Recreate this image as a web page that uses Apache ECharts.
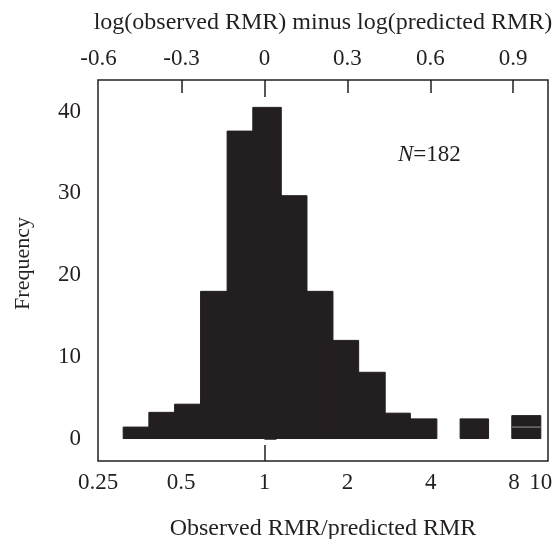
<!DOCTYPE html>
<html>
<head>
<meta charset="utf-8">
<script src="https://cdn.jsdelivr.net/npm/echarts@6/dist/echarts.min.js"></script>
<style>
  html, body { margin: 0; padding: 0; background: #fff; }
  #chart { width: 555px; height: 539px; }
</style>
</head>
<body>
<div id="chart"></div>
<script>
// bin edges in log10(observed/predicted) units
const binEdges = [-0.511, -0.418, -0.325, -0.231, -0.135, -0.042, 0.061, 0.154, 0.248, 0.341, 0.437, 0.528, 0.624, 0.708, 0.811, 0.895, 1.0]
const frequencies = [1.4, 3.2, 4.2, 18, 37.6, 40.5, 29.7, 18, 12, 8.1, 3.1, 2.4, 0, 2.4, 0, 2.8]
const lastBinBreak = 1.4 // light line inside the last bar

const topTicks = [-0.6, -0.3, 0, 0.3, 0.6, 0.9]
const ratioTicks = [0.5, 1, 2, 4, 8]
const ratioLabels = [0.25, 0.5, 1, 2, 4, 8, 10]
const yTicks = [0, 5, 10, 15, 20, 25, 30, 35, 40]
const yLabels = [0, 10, 20, 30, 40]

const ink = '#231f20'
const font = 'Liberation Serif'

const rects = []
frequencies.forEach((f, i) => {
  if (!f) return
  if (i === frequencies.length - 1) {
    rects.push([binEdges[i], binEdges[i + 1], 0, lastBinBreak])
    rects.push([binEdges[i], binEdges[i + 1], lastBinBreak, f])
  } else {
    rects.push([binEdges[i], binEdges[i + 1], 0, f])
  }
})

const xMin = Math.log10(0.25)
const xMax = 1.026

const tickStyle = { color: ink, width: 1.5 }

function plainX(extra) {
  return Object.assign({
    type: 'value',
    min: xMin, max: xMax,
    axisLine: { show: false },
    splitLine: { show: false }
  }, extra)
}

const chart = echarts.init(document.getElementById('chart'))

const option = {
  animation: false,
  textStyle: { fontFamily: font, color: ink },
  grid: {
    left: 98, right: 7, top: 80, bottom: 78,
    outerBoundsMode: 'none',
    containLabel: false,
    show: true, borderColor: ink, borderWidth: 1.5
  },
  xAxis: [
    plainX({
      position: 'bottom',
      name: 'Observed RMR/predicted RMR',
      nameLocation: 'middle',
      nameGap: 56,
      nameTextStyle: { fontFamily: font, fontSize: 24, color: ink },
      axisTick: {
        show: true, inside: true, length: 11, lineStyle: tickStyle,
        customValues: ratioTicks.map((v) => Math.log10(v))
      },
      axisLabel: {
        fontFamily: font, fontSize: 23, color: ink, margin: 10,
        customValues: ratioLabels.map((v) => Math.log10(v)),
        formatter: (v) => String(Math.round(Math.pow(10, v) * 100) / 100)
      }
    }),
    plainX({
      position: 'top',
      name: 'log(observed RMR) minus log(predicted RMR)',
      nameLocation: 'middle',
      nameGap: 45,
      nameTextStyle: { fontFamily: font, fontSize: 24, color: ink },
      axisTick: {
        show: true, inside: true, length: 13, lineStyle: tickStyle,
        customValues: topTicks.slice(1)
      },
      axisLabel: {
        fontFamily: font, fontSize: 23, color: ink, margin: 10,
        customValues: topTicks,
        formatter: (v) => String(Math.round(v * 10) / 10)
      }
    }),
    // slightly longer tick at the centre value on both sides
    plainX({
      position: 'bottom',
      axisTick: { show: true, inside: true, length: 16, lineStyle: tickStyle, customValues: [0] },
      axisLabel: { show: false }
    }),
    plainX({
      position: 'top',
      axisTick: { show: true, inside: true, length: 17, lineStyle: tickStyle, customValues: [0] },
      axisLabel: { show: false }
    })
  ],
  yAxis: {
    type: 'value',
    min: -2.75, max: 43.85,
    name: 'Frequency',
    nameLocation: 'middle',
    nameGap: 64,
    nameRotate: 90,
    nameTextStyle: { fontFamily: font, fontSize: 22, color: ink, padding: [0, 0, 0, 14] },
    axisLine: { show: false },
    splitLine: { show: false },
    axisTick: {
      show: true, inside: true, length: 12, lineStyle: tickStyle,
      customValues: yTicks
    },
    axisLabel: {
      fontFamily: font, fontSize: 23, color: ink, margin: 17,
      customValues: yLabels
    }
  },
  graphic: [
    {
      type: 'text',
      left: 398, top: 143,
      style: {
        text: '{i|N}=182',
        font: '23px "Liberation Serif"',
        fill: ink,
        rich: { i: { fontStyle: 'italic', fontFamily: font, fontSize: 23, fill: ink } }
      }
    }
  ],
  series: [
    {
      type: 'custom',
      xAxisIndex: 0,
      yAxisIndex: 0,
      encode: { x: [0, 1], y: [2, 3] },
      data: rects,
      renderItem: (params, api) => {
        const p0 = api.coord([api.value(0), api.value(3)])
        const p1 = api.coord([api.value(1), api.value(2)])
        const children = [{
          type: 'rect',
          shape: { x: p0[0], y: p0[1], width: p1[0] - p0[0], height: p1[1] - p0[1] },
          style: { fill: ink, stroke: ink, lineWidth: 1 }
        }]
        if (api.value(2) > 0) {
          children.push({
            type: 'line',
            shape: { x1: p0[0], y1: p1[1], x2: p1[0], y2: p1[1] },
            style: { stroke: '#9c9a9a', lineWidth: 1 }
          })
        }
        return { type: 'group', children }
      }
    }
  ]
}

chart.setOption(option)
</script>
</body>
</html>
